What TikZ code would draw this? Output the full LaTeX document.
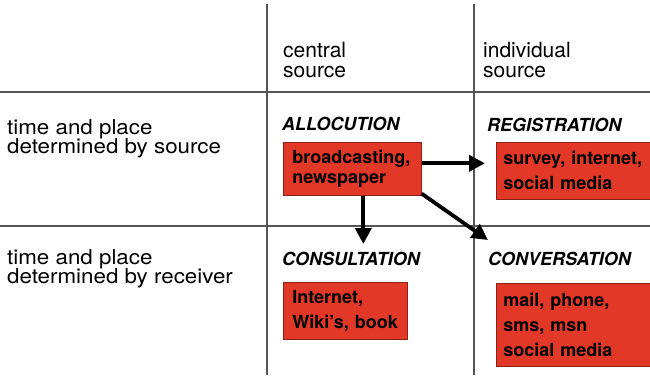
\documentclass[tikz,border=0pt]{standalone}
\usepackage{fontspec}
\setmainfont{TeX Gyre Heros}
\newfontfamily\sidefont{TeX Gyre Heros}[FakeStretch=1.09]
\usetikzlibrary{arrows.meta}
\definecolor{boxred}{RGB}{226,56,40}
\definecolor{gridgray}{RGB}{85,85,85}
\begin{document}
\begin{tikzpicture}[x=1pt,y=-1pt,
  grid/.style={draw=gridgray, line width=1.2pt},
  lbl/.style={anchor=base west, inner sep=0pt, font=\fontsize{21}{21}\selectfont},
  side/.style={anchor=base west, inner sep=0pt, font=\sidefont\fontsize{20.5}{20}\selectfont},
  head/.style={anchor=base west, inner sep=0pt, font=\bfseries\itshape\fontsize{18}{18}\selectfont},
  redbox/.style={draw=boxred!60!black, line width=0.6pt, fill=boxred, anchor=north west,
    align=left, inner ysep=0pt, font=\bfseries\fontsize{18}{25}\selectfont},
  arr/.style={line width=3.8pt, -{Triangle[length=16pt,width=16pt]}}
]
\useasboundingbox (0,0) rectangle (650,375);
% grid
\coordinate (v1t) at (267,4);   \coordinate (v1b) at (267,375);
\coordinate (v2t) at (474,4);   \coordinate (v2b) at (474,375);
\coordinate (h1l) at (0,92);    \coordinate (h1r) at (650,92);
\coordinate (h2l) at (0,226);   \coordinate (h2r) at (650,226);
\draw[grid] (v1t) -- (v1b);
\draw[grid] (v2t) -- (v2b);
\draw[grid] (h1l) -- (h1r);
\draw[grid] (h2l) -- (h2r);
% column headers
\node[lbl] (c1a) at (283,57) {central};
\node[lbl] (c1b) at (283,77) {source};
\node[lbl] (c2a) at (483,57) {individual};
\node[lbl] (c2b) at (483,77) {source};
% row headers
\node[side] (r1a) at (7,134.5) {time and place};
\node[side] (r1b) at (7,153) {determined by source};
\node[side] (r2a) at (7,264.5) {time and place};
\node[side] (r2b) at (7,283) {determined by receiver};
% cell titles
\node[head] (tA) at (282,130) {ALLOCUTION};
\node[head] (tB) at (487,131) {REGISTRATION};
\node[head] (tC) at (282,265) {CONSULTATION};
\node[head] (tD) at (488,265) {CONVERSATION};
% boxes
\node[redbox, font=\bfseries\fontsize{18}{20}\selectfont, minimum width=138pt, minimum height=53pt,
  inner xsep=9pt, text width=120pt] (A) at (283,142) {broadcasting,\\newspaper};
\node[redbox, minimum width=158pt, minimum height=57pt,
  inner xsep=7pt, text width=144pt] (B) at (496,142) {survey, internet,\\social media};
\node[redbox, minimum width=124pt, minimum height=57pt,
  inner xsep=9pt, text width=106pt] (C) at (283,282) {Internet,\\Wiki's, book};
\node[redbox, minimum width=158pt, minimum height=83pt,
  inner xsep=7pt, text width=144pt] (D) at (496,283) {mail, phone,\\sms, msn\\social media};
% arrows
\draw[arr] ([yshift=5.5pt]A.east) -- ([xshift=-11pt,yshift=7.5pt]B.west);
\draw[arr] ([xshift=11pt]A.south) -- ([xshift=18pt,yshift=38pt]C.north);
\draw[arr] ([yshift=2pt]A.south east) -- ([xshift=-8pt,yshift=43pt]D.north west);
\end{tikzpicture}
\end{document}
